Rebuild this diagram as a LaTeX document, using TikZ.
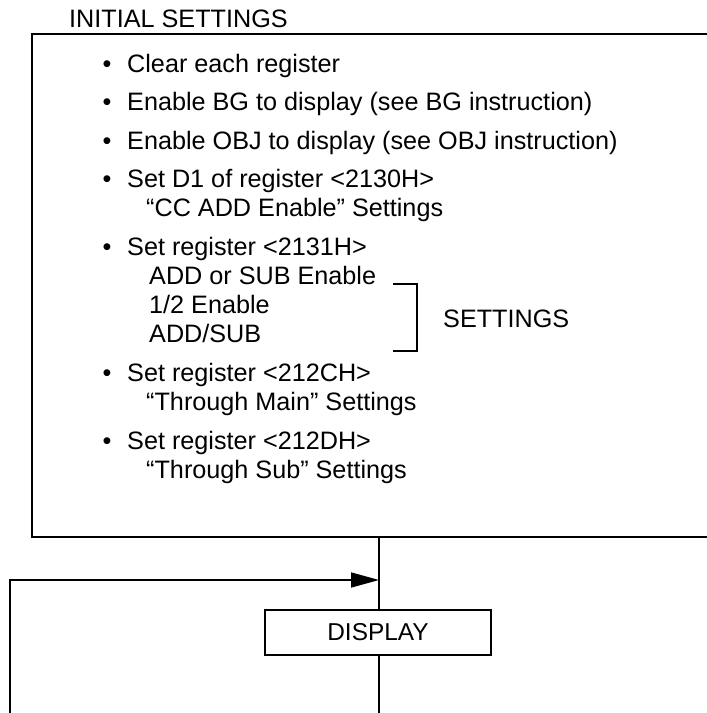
\documentclass[tikz,border=0pt]{standalone}
\usepackage{fontspec}
\setmainfont{Liberation Sans}
\usetikzlibrary{arrows.meta}
\begin{document}
\begin{tikzpicture}[x=1bp,y=-1bp,
  txt/.style={anchor=base west,inner sep=0pt,font=\fontsize{25.3}{30}\selectfont},
  bul/.style={anchor=base,inner sep=0pt,font=\fontsize{25.3}{30}\selectfont},
  frame/.style={line width=1.8bp},
  conn/.style={line width=1.6bp},
  dispbox/.style={draw,line width=1.6bp,minimum width=226bp,minimum height=45bp,inner sep=0pt,font=\fontsize{24.5}{29}\selectfont}]
\useasboundingbox (0,0) rectangle (707,713);
% title
\node[txt] (title) at (69,28) {INITIAL SETTINGS};
% big box, open to the right
\draw[frame] (707,34) -- (32,34) -- (32,537) -- (707,537);
% bullets and texts
\node[bul] (b1) at (107,73) {•};
\node[txt] (t1) at (127,73) {Clear each register};
\node[bul] (b2) at (107,111) {•};
\node[txt] (t2) at (127,111) {Enable BG to display (see BG instruction)};
\node[bul] (b3) at (107,149) {•};
\node[txt] (t3) at (127,149) {Enable OBJ to display (see OBJ instruction)};
\node[bul] (b4) at (107,187) {•};
\node[txt] (t4) at (127,187) {Set D1 of register <2130H>};
\node[txt] (t4a) at (146,216) {“CC ADD Enable” Settings};
\node[bul] (b5) at (107,255) {•};
\node[txt] (t5) at (127,255) {Set register <2131H>};
\node[txt] (t5a) at (149,284) {ADD or SUB Enable};
\node[txt] (t5b) at (149,313) {1/2 Enable};
\node[txt] (t5c) at (149,342) {ADD/SUB};
\node[bul] (b6) at (107,381) {•};
\node[txt] (t6) at (127,381) {Set register <212CH>};
\node[txt] (t6a) at (146,410) {“Through Main” Settings};
\node[bul] (b7) at (107,449) {•};
\node[txt] (t7) at (127,449) {Set register <212DH>};
\node[txt] (t7a) at (146,478) {“Through Sub” Settings};
% bracket
\draw[conn] (393,284) -- (417,284) -- (417,351) -- (393,351);
\node[txt] (settings) at (443,327) {SETTINGS};
% flow
\node[dispbox] (disp) at (378,632.5) {DISPLAY};
\coordinate (boxbot) at (379,537);
\coordinate (join) at (379,580);
\coordinate (down) at (379,713);
\coordinate (loopstart) at (10,713);
\coordinate (loopcorner) at (10,580);
\draw[conn] (boxbot) -- (disp.north -| boxbot);
\draw[conn] (disp.south -| down) -- (down);
\draw[conn,-{Triangle[length=28bp,width=15bp]}] (loopstart) -- (loopcorner) -- (join);
\end{tikzpicture}
\end{document}
